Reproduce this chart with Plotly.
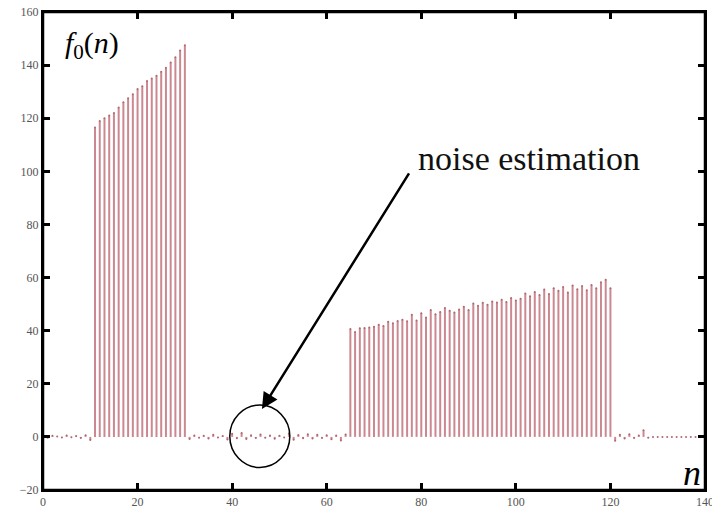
import plotly.graph_objects as go

# ---- data ----
noise_head = [0.2, -0.3, 0.4, 0.1, -0.2, 0.5, -0.1, 0.3, -0.4, 0.6, -1.2]          # n = 0..10
voiced_1 = [116.5, 119.0, 120.0, 121.0, 122.0, 124.0, 126.0, 127.5, 129.0, 131.0,
            132.0, 134.0, 135.0, 136.0, 137.5, 139.0, 141.0, 143.0, 145.5, 147.5]  # n = 11..30
noise_mid = [-0.8, 0.5, -0.3, 0.4, -0.6, 0.8, -0.2, 0.3, -1.0, 1.2, -0.5, 1.5, -0.8,
             0.6, -0.4, 0.9, -0.3, 0.5, -0.7, 0.4, -0.2, 1.3, -1.1, 0.7, -0.5, 1.0,
             -0.6, 0.8, -0.4, 0.6, -0.9, 0.5, -1.4, 0.9]                            # n = 31..64
voiced_2 = [40.6, 39.5, 40.9, 41.0, 41.2, 41.5, 42.2, 41.8, 43.4, 42.8,
            43.6, 44.1, 43.5, 46.0, 43.8, 46.6, 45.0, 47.8, 46.2, 47.0,
            48.5, 47.5, 46.8, 48.0, 49.0, 47.8, 50.2, 49.4, 50.5, 49.8,
            51.0, 50.6, 51.6, 50.8, 52.3, 51.4, 52.0, 54.0, 53.0, 54.6,
            53.4, 55.5, 53.8, 56.0, 55.0, 56.4, 54.4, 57.0, 55.6, 56.8,
            55.2, 57.2, 56.0, 58.2, 59.2, 56.0]                                     # n = 65..120
noise_tail = [-1.5, 0.8, -0.6, 1.0, -0.4, 0.5, 2.5, -0.3, 0, 0, 0, 0, 0, 0, 0, 0,
              0, 0, 0, 0]                                                           # n = 121..140

values = noise_head + voiced_1 + noise_mid + voiced_2 + noise_tail
n = list(range(len(values)))

x_ticks = [0, 20, 40, 60, 80, 100, 120, 140]
y_ticks = [-20, 0, 20, 40, 60, 80, 100, 120, 140, 160]

# stems built from the data
sx, sy = [], []
for xi, vi in zip(n, values):
    sx += [xi, xi, None]
    sy += [0, vi, None]

fig = go.Figure()
fig.add_trace(go.Scatter(x=sx, y=sy, mode="lines",
                         line=dict(color="#cc8890", width=2), hoverinfo="skip"))
fig.add_trace(go.Scatter(x=n, y=values, mode="markers",
                         marker=dict(color="#b06870", size=2)))

# frame drawn over the plot area
fig.add_shape(type="rect", xref="paper", yref="paper", x0=0, x1=1, y0=0, y1=1,
              line=dict(color="black", width=2.5), layer="above")

fig.add_shape(type="circle", xref="x", yref="y", x0=39.5, x1=52.2, y0=-11.5, y1=12,
              line=dict(color="black", width=1.5))

fig.add_annotation(x=46.3, y=10.5, ax=77.6, ay=99.8, xref="x", yref="y",
                   axref="x", ayref="y", showarrow=True, arrowhead=2, arrowsize=1.3,
                   arrowwidth=2.5, arrowcolor="black", text="")
fig.add_annotation(x=102.7, y=105, xref="x", yref="y", text="noise estimation",
                   showarrow=False, font=dict(family="Liberation Serif", size=34, color="#111111"))
fig.add_annotation(x=10.4, y=147.5, xref="x", yref="y",
                   text="<i>f</i><sub>0</sub>(<i>n</i>)", showarrow=False,
                   font=dict(family="Liberation Serif", size=30, color="black"))
fig.add_annotation(x=137.2, y=-13.5, xref="x", yref="y", text="<i>n</i>",
                   showarrow=False, font=dict(family="Liberation Serif", size=36, color="black"))

tick_font = dict(family="Liberation Serif", size=12, color="#555555")

fig.update_xaxes(range=[0, 140], tickmode="array", tickvals=x_ticks,
                 showgrid=False, zeroline=False, showline=True, linecolor="black",
                 linewidth=2, mirror="allticks", ticks="inside", ticklen=7,
                 tickwidth=3, tickcolor="#000000", tickfont=tick_font,
                 ticklabeloverflow="allow")
fig.update_yaxes(range=[-20, 160], tickmode="array", tickvals=y_ticks,
                 showgrid=False, zeroline=False, showline=True, linecolor="black",
                 linewidth=2, mirror="allticks", ticks="inside", ticklen=7,
                 tickwidth=3, tickcolor="#000000", tickfont=tick_font, ticksuffix="  ",
                 ticklabeloverflow="allow")

fig.update_layout(
    width=712, height=524, showlegend=False, template="none",
    paper_bgcolor="white", plot_bgcolor="white",
    margin=dict(l=43, r=7, t=12, b=34, autoexpand=False),
)

fig.write_html("out.html", config={"displayModeBar": False},
               post_script="document.body.style.margin='0';document.body.style.padding='0';")
